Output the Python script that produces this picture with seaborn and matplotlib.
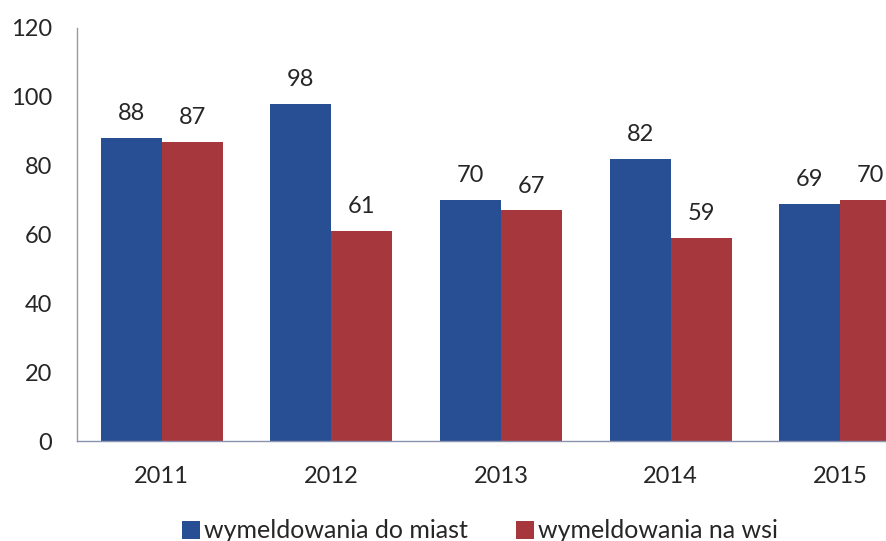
import matplotlib
matplotlib.use("Agg")
import matplotlib.pyplot as plt
import seaborn as sns
import pandas as pd

years = ["2011", "2012", "2013", "2014", "2015"]
do_miast = [88, 98, 70, 82, 69]
na_wsi = [87, 61, 67, 59, 70]
series_names = ["wymeldowania do miast", "wymeldowania na wsi"]
y_ticks = [0, 20, 40, 60, 80, 100, 120]

df = pd.DataFrame({
    "rok": years * 2,
    "wartosc": do_miast + na_wsi,
    "seria": [series_names[0]] * len(years) + [series_names[1]] * len(years),
})

sns.set_theme(style="white")
plt.rcParams["font.family"] = ["Lato", "DejaVu Sans"]

text_color = "#262626"
fs = 17
palette = {series_names[0]: "#284f93", series_names[1]: "#a6383d"}

fig = plt.figure(figsize=(8.86, 5.41), dpi=100)
# plot area runs past the right edge of the figure
ax = fig.add_axes([77 / 886, 1 - 441 / 541, 848 / 886, 413 / 541])

sns.barplot(data=df, x="rok", y="wartosc", hue="seria", palette=palette,
            width=0.72, saturation=1, linewidth=0, ax=ax, legend=True)

for container in ax.containers:
    ax.bar_label(container, padding=10, fontsize=fs, color=text_color)

ax.set_ylim(0, 120)
ax.set_xlim(-0.5, 4.5)
ax.set_yticks(y_ticks)
ax.set_yticklabels([str(t) for t in y_ticks], fontsize=fs, color=text_color)
ax.tick_params(axis="y", pad=18, length=0)
ax.tick_params(axis="x", pad=18, length=0, labelsize=fs, labelcolor=text_color)
ax.set_xlabel("")
ax.set_ylabel("")

for side in ["top", "right"]:
    ax.spines[side].set_visible(False)
ax.spines["left"].set_color("#9a9a9a")
ax.spines["bottom"].set_color("#8a93b0")
ax.spines["left"].set_linewidth(1.0)
ax.spines["bottom"].set_linewidth(1.0)

handles, labels = ax.get_legend_handles_labels()
ax.get_legend().remove()
fig.legend(handles, labels, loc="center", bbox_to_anchor=(480 / 886, 1 - 531 / 541),
           ncol=2, frameon=False, fontsize=18, handlelength=0.72, handleheight=0.72,
           handletextpad=0.18, columnspacing=1.9, labelcolor=text_color,
           borderpad=0, borderaxespad=0)

fig.savefig("out.png", dpi=100)
